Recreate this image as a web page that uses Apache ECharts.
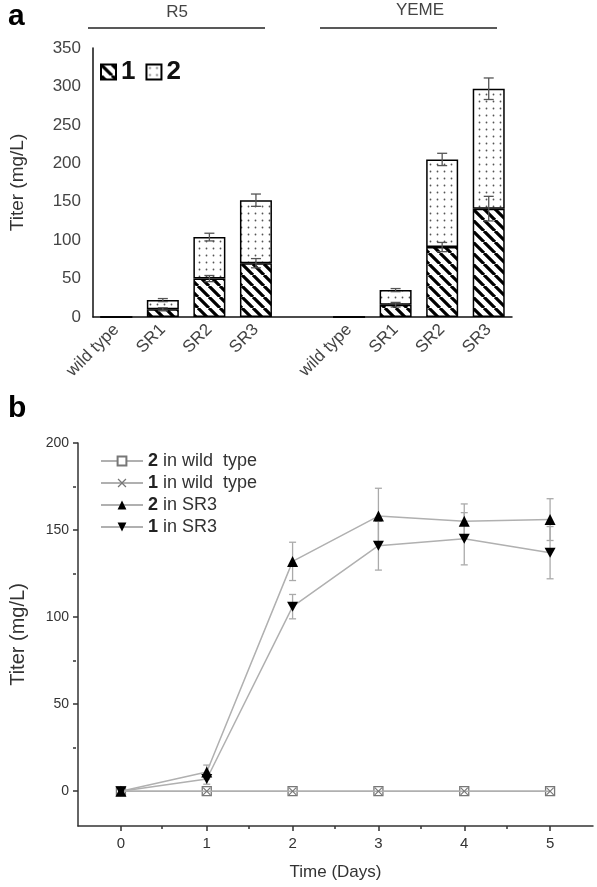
<!DOCTYPE html>
<html><head><meta charset="utf-8">
<script src="https://cdn.jsdelivr.net/npm/echarts@6/dist/echarts.min.js"></script>
<style>html,body{margin:0;padding:0;background:#fff}#c{width:597px;height:887px}</style>
</head><body><div id="c"></div>
<script>
// ---- Panel a data ----
const catsA = ['wild type','SR1','SR2','SR3','','wild type','SR1','SR2','SR3'];
const comp1A = [0,10,50,70,null,0,16,91,141];
const comp2A = [0,12,54,82,null,0,19,114,156];
const err1A = [0,2,4,6,null,0,3,6,16];
const errTotA = [0,2,5,8,null,0,2,8,14];
const yTicksA = [0,50,100,150,200,250,300,350];
// ---- Panel b data ----
const daysB = [0,1,2,3,4,5];
const wt2 = [0,0,0,0,0,0];
const wt1 = [0,0,0,0,0,0];
const sr3c2 = [0,11,132,158,155,156];
const sr3c2Err = [0,4,11,16,10,12];
const sr3c1 = [0,7,106,141,145,137];
const sr3c1Err = [0,3,7,14,15,15];
const yTicksB = [0,50,100,150,200];
const yMinorB = [25,75,125,175];
const xMinorB = [0.5,1.5,2.5,3.5,4.5];
const namesB = ['2 in wild  type','1 in wild  type','2 in SR3','1 in SR3'];

function hatch(){
  const s=11, c=document.createElement('canvas'); c.width=c.height=s;
  const x=c.getContext('2d'); x.fillStyle='#fff'; x.fillRect(0,0,s,s);
  x.strokeStyle='#000'; x.lineWidth=3.2; x.beginPath();
  for (const k of [-s,0,s]) { x.moveTo(k,0); x.lineTo(k+s,s); }
  x.stroke(); return c;
}
function dots(){
  const s=7, c=document.createElement('canvas'); c.width=c.height=s;
  const x=c.getContext('2d'); x.fillStyle='#fff'; x.fillRect(0,0,s,s);
  x.fillStyle='#555'; x.beginPath(); x.arc(3.5,3.5,0.9,0,Math.PI*2); x.fill(); return c;
}

function errRender(color, capW, lw){
  return function(params, api){
    const xv=api.value(0), yv=api.value(1), e=api.value(2);
    const t=api.coord([xv,yv+e]), b=api.coord([xv,yv-e]);
    const st={stroke:color, lineWidth:lw};
    return {type:'group', children:[
      {type:'line', shape:{x1:t[0],y1:t[1],x2:b[0],y2:b[1]}, style:st},
      {type:'line', shape:{x1:t[0]-capW,y1:t[1],x2:t[0]+capW,y2:t[1]}, style:st},
      {type:'line', shape:{x1:b[0]-capW,y1:b[1],x2:b[0]+capW,y2:b[1]}, style:st}
    ]};
  };
}

const errA = [];
catsA.forEach((c,i)=>{
  if (comp1A[i]) {
    errA.push([i, comp1A[i], err1A[i]]);
    errA.push([i, comp1A[i]+comp2A[i], errTotA[i]]);
  }
});
const errB = [];
daysB.forEach((d,i)=>{
  if (sr3c2Err[i]) errB.push([d, sr3c2[i], sr3c2Err[i]]);
  if (sr3c1Err[i]) errB.push([d, sr3c1[i], sr3c1Err[i]]);
});

const xPath = 'path://M0,1 L1,0 L5,4 L9,0 L10,1 L6,5 L10,9 L9,10 L5,6 L1,10 L0,9 L4,5 Z';
const downTri = 'path://M0,0 L10,0 L5,8.66 Z';
const lineGray = '#b0b0b0';
const axisTxt = '#444';

const chart = echarts.init(document.getElementById('c'), null, {renderer:'canvas'});
chart.setOption({
  animation:false,
  backgroundColor:'#fff',
  textStyle:{fontFamily:'Liberation Sans, Arial, sans-serif'},
  grid:[
    {left:88, right:85, top:48, bottom:570},
    {left:76, right:4, top:443, bottom:61},
    {left:76, right:4, top:443, bottom:61}
  ],
  legend:[
    {data:['1','2'], left:95, top:54, orient:'horizontal', icon:'rect', itemWidth:15, itemHeight:15, itemGap:10,
     textStyle:{fontSize:26, fontWeight:'bold', color:'#111'}},
    {data:namesB, left:95, top:447, orient:'vertical', itemWidth:42, itemHeight:11, itemGap:4,
     formatter: n => '{b|'+n.charAt(0)+'}'+n.slice(1),
     textStyle:{fontSize:18, color:'#333', rich:{b:{fontSize:18, fontWeight:'bold', color:'#222'}}}}
  ],
  xAxis:[
    {gridIndex:0, type:'category', data:catsA, axisTick:{show:false},
     axisLine:{onZero:false, lineStyle:{color:'#111', width:1.5}},
     axisLabel:{rotate:45, interval:0, fontSize:17, color:axisTxt, margin:10}},
    {gridIndex:1, type:'value', min:-0.5, max:5.5, splitLine:{show:false},
     axisLine:{onZero:false, lineStyle:{color:'#333', width:1.5}},
     axisTick:{customValues:daysB, length:5, lineStyle:{width:1.5}},
     axisLabel:{customValues:daysB, fontSize:15, color:'#333', margin:10},
     name:'Time (Days)', nameLocation:'middle', nameGap:38,
     nameTextStyle:{fontSize:17, color:'#333'}},
    {gridIndex:2, type:'value', min:-0.5, max:5.5, splitLine:{show:false},
     axisLine:{show:false, onZero:false},
     axisTick:{customValues:xMinorB, length:3, lineStyle:{color:'#333', width:1.5}},
     axisLabel:{show:false}}
  ],
  yAxis:[
    {gridIndex:0, type:'value', min:0, max:350, interval:50, splitLine:{show:false},
     axisTick:{show:false}, axisLine:{show:true, onZero:false, lineStyle:{color:'#111', width:1.5}},
     axisLabel:{fontSize:17, color:axisTxt, margin:12, customValues:yTicksA},
     name:'Titer (mg/L)', nameLocation:'middle', nameGap:66, nameRotate:90,
     nameTextStyle:{fontSize:19, color:'#333'}},
    {gridIndex:1, type:'value', min:-20, max:200, splitLine:{show:false},
     axisLine:{show:true, onZero:false, lineStyle:{color:'#333', width:1.5}},
     axisTick:{customValues:yTicksB, length:5, lineStyle:{width:1.5}},
     axisLabel:{customValues:yTicksB, fontSize:14, color:'#333', margin:9},
     name:'Titer (mg/L)', nameLocation:'middle', nameGap:50, nameRotate:90,
     nameTextStyle:{fontSize:20, color:'#333'}},
    {gridIndex:2, type:'value', min:-20, max:200, splitLine:{show:false},
     axisLine:{show:false, onZero:false},
     axisTick:{customValues:yMinorB, length:3, lineStyle:{color:'#333', width:1.5}},
     axisLabel:{show:false}}
  ],
  graphic:[
    {type:'text', left:8, top:2, style:{text:'a', fontSize:30, fontWeight:'bold', fill:'#000', fontFamily:'Liberation Sans, Arial'}},
    {type:'text', left:8, top:394, style:{text:'b', fontSize:30, fontWeight:'bold', fill:'#000', fontFamily:'Liberation Sans, Arial'}},
    {type:'text', x:177, y:12, style:{text:'R5', fontSize:17, fill:'#444', align:'center', verticalAlign:'middle', fontFamily:'Liberation Sans, Arial'}},
    {type:'text', x:420, y:10, style:{text:'YEME', fontSize:17, fill:'#444', align:'center', verticalAlign:'middle', fontFamily:'Liberation Sans, Arial'}},
    {type:'line', shape:{x1:88, y1:28, x2:265, y2:28}, style:{stroke:'#222', lineWidth:1.5}},
    {type:'line', shape:{x1:320, y1:28, x2:497, y2:28}, style:{stroke:'#222', lineWidth:1.5}}
  ],
  series:[
    {name:'1', type:'bar', xAxisIndex:0, yAxisIndex:0, stack:'a', data:comp1A, barWidth:32,
     itemStyle:{color:{image:hatch(), repeat:'repeat'}, borderColor:'#000', borderWidth:1.5}},
    {name:'2', type:'bar', xAxisIndex:0, yAxisIndex:0, stack:'a', data:comp2A, barWidth:32,
     itemStyle:{color:{image:dots(), repeat:'repeat'}, borderColor:'#000', borderWidth:1.5}},
    {type:'custom', xAxisIndex:0, yAxisIndex:0, data:errA, encode:{x:0,y:1}, z:10,
     renderItem:errRender('#555',5,1.3), silent:true},
    {name:namesB[0], type:'line', xAxisIndex:1, yAxisIndex:1, data:daysB.map((d,i)=>[d,wt2[i]]),
     symbol:'rect', symbolSize:9, lineStyle:{color:lineGray, width:1.5},
     itemStyle:{color:'#fff', borderColor:'#777', borderWidth:1.3}, z:2},
    {name:namesB[1], type:'line', xAxisIndex:1, yAxisIndex:1, data:daysB.map((d,i)=>[d,wt1[i]]),
     symbol:xPath, symbolSize:8, lineStyle:{color:lineGray, width:1.5},
     itemStyle:{color:'#777'}, z:3},
    {name:namesB[2], type:'line', xAxisIndex:1, yAxisIndex:1, data:daysB.map((d,i)=>[d,sr3c2[i]]),
     symbol:'triangle', symbolSize:11, lineStyle:{color:lineGray, width:1.5},
     itemStyle:{color:'#000'}, z:5},
    {name:namesB[3], type:'line', xAxisIndex:1, yAxisIndex:1, data:daysB.map((d,i)=>[d,sr3c1[i]]),
     symbol:downTri, symbolSize:[11,10], lineStyle:{color:lineGray, width:1.5},
     itemStyle:{color:'#000'}, z:5},
    {type:'custom', xAxisIndex:1, yAxisIndex:1, data:errB, encode:{x:0,y:1}, z:4,
     renderItem:errRender('#aaa',3.5,1.3), silent:true}
  ]
});
</script></body></html>
